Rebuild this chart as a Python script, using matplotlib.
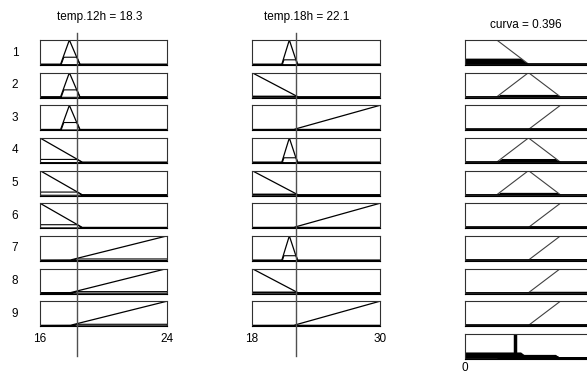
import matplotlib
matplotlib.use("Agg")
import matplotlib.pyplot as plt
import matplotlib.transforms as mtransforms
import numpy as np

plt.rcParams['font.family'] = ['Liberation Sans', 'DejaVu Sans']

# input variables
in_names = ["temp.12h", "temp.18h"]
in_values = [18.3, 22.1]
in_ranges = [(16, 24), (18, 30)]

# membership functions as piecewise linear (x points, y points)
mfs_12h = {
    "a": ([17.3, 17.85, 18.5], [0, 1, 0]),
    "dec": ([16, 18.65], [1, 0]),
    "inc": ([17.9, 24], [0, 1]),
}
mfs_18h = {
    "a": ([20.8, 21.5, 22.25], [0, 1, 0]),
    "dec": ([18, 22.3], [1, 0]),
    "inc": ([21.9, 30], [0, 1]),
}
rules_12h = ["a", "a", "a", "dec", "dec", "dec", "inc", "inc", "inc"]
rules_18h = ["a", "dec", "inc", "a", "dec", "inc", "a", "dec", "inc"]

# output variable
out_name = "curva"
out_value = 0.396
out_range = (0, 1)
mfs_out = {
    "low": ([0, 0.25, 0.5], [1, 1, 0]),
    "med": ([0.25, 0.5, 0.75], [0, 1, 0]),
    "high": ([0.5, 0.75, 1], [0, 1, 1]),
}
rules_out = ["low", "med", "high", "med", "med", "high", "high", "high", "high"]
firing = [0.25, 0.1, 0.06, 0.15, 0.1, 0.06, 0.06, 0.06, 0.06]

W, H = 587, 376
FS = 8.5
col_left = [40, 252, 465]
col_width = [127, 128, 127]
row_top0, row_step, box_h = 40, 32.65, 25


def make_box(fig, col, row):
    top = row_top0 + row * row_step
    ax = fig.add_axes([col_left[col] / W, 1 - (top + box_h) / H,
                       col_width[col] / W, box_h / H])
    ax.set_facecolor('white')
    ax.set_xticks([])
    ax.set_yticks([])
    for s in ax.spines.values():
        s.set_linewidth(0.8)
        s.set_color('#303030')
    ax.spines['bottom'].set_color('black')
    ax.set_ylim(-0.035, 1.0)
    return ax


fig = plt.figure(figsize=(W / 100, H / 100), dpi=100)

# input columns
in_mfs = [mfs_12h, mfs_18h]
in_rules = [rules_12h, rules_18h]
last_in_axes = []
for c in range(2):
    lo, hi = in_ranges[c]
    xs = np.linspace(lo, hi, 600)
    for r in range(9):
        ax = make_box(fig, c, r)
        xp, yp = in_mfs[c][in_rules[c][r]]
        mu = np.interp(xs, xp, yp)
        deg = np.interp(in_values[c], xp, yp)
        ax.fill_between(xs, 0, np.minimum(mu, deg), facecolor='white',
                        edgecolor='black', linewidth=0.8)
        ax.plot(xs, mu, color='black', lw=0.9)
        ax.set_xlim(lo, hi)
        if r == 8:
            ax.set_xticks([lo, hi])
            ax.set_xticklabels([f"{lo}", f"{hi}"], fontsize=FS)
            ax.tick_params(axis='x', length=0, pad=5)
            last_in_axes.append(ax)
    fig.text([100, 307][c] / W, 1 - 17 / H, f"{in_names[c]} = {in_values[c]}",
             ha='center', va='center', fontsize=FS)

# vertical lines at the input values
for c, ax in enumerate(last_in_axes):
    trans = mtransforms.blended_transform_factory(ax.transData, fig.transFigure)
    ax.plot([in_values[c], in_values[c]], [1 - 33 / H, 1 - 356 / H],
            transform=trans, clip_on=False, color='#505050', lw=1.0, zorder=10)

# output column
lo, hi = out_range
xs = np.linspace(lo, hi, 600)
for r in range(9):
    ax = make_box(fig, 2, r)
    xp, yp = mfs_out[rules_out[r]]
    mu = np.interp(xs, xp, yp)
    ax.fill_between(xs, 0, np.minimum(mu, firing[r]), color='black', lw=0)
    ax.plot(xs, mu, color='#404040', lw=0.8)
    ax.plot([lo, hi], [0, 0], color='black', lw=1.2)
    ax.set_xlim(lo, hi)

# aggregated output
agg = make_box(fig, 2, 9)
for r in range(9):
    xp, yp = mfs_out[rules_out[r]]
    mu = np.interp(xs, xp, yp)
    agg.fill_between(xs, 0, np.minimum(mu, firing[r]), color='black', lw=0)
agg.plot([lo, hi], [0, 0], color='black', lw=1.2)
agg.axvline(out_value, color='black', lw=2.5)
agg.set_xlim(lo, hi)
agg.set_xticks([lo])
agg.set_xticklabels([f"{lo}"], fontsize=FS)
agg.tick_params(axis='x', length=0, pad=2)

fig.text(526 / W, 1 - 25 / H, f"{out_name} = {out_value}",
         ha='center', va='center', fontsize=FS)

# rule numbers
for r in range(9):
    top = row_top0 + r * row_step
    fig.text(15 / W, 1 - (top + box_h / 2) / H, str(r + 1),
             ha='center', va='center', fontsize=FS)

fig.savefig("out.png", dpi=100)
